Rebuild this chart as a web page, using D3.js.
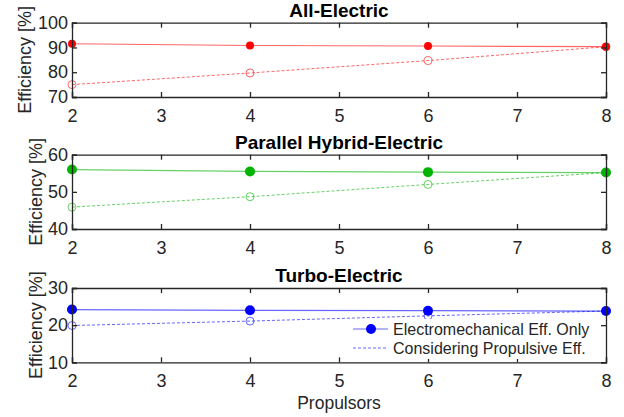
<!DOCTYPE html>
<html>
<head>
<meta charset="utf-8">
<script src="https://d3js.org/d3.v7.min.js"></script>
<style>
  body { margin: 0; background: #fff; }
  text { font-family: "Liberation Sans", Arial, sans-serif; fill: #262626; }
</style>
</head>
<body>
<script>
// data
const propulsors = [2, 4, 6, 8];
const xTicks = [2, 3, 4, 5, 6, 7, 8];

const titles = ["All-Electric", "Parallel Hybrid-Electric", "Turbo-Electric"];
const colors = ["#ff0000", "#00b400", "#0000ff"];
const yDomains = [[70, 100], [40, 60], [10, 30]];
const yTickVals = [[70, 80, 90, 100], [40, 50, 60], [10, 20, 30]];

const electroEff = [
  [91.5, 90.8, 90.6, 90.3],
  [56.0, 55.5, 55.3, 55.2],
  [24.2, 24.0, 23.9, 23.8]
];
const propulsiveEff = [
  [75.0, 79.7, 84.7, 90.3],
  [45.9, 48.7, 52.0, 55.2],
  [19.9, 21.1, 22.5, 23.8]
];

const legendLabels = ["Electromechanical Eff. Only", "Considering Propulsive Eff."];

const width = 624, height = 417;
const left = 72, right = 606;
const panelTops = [22.7, 154.7, 288];
const panelH = 74.3;
const ylabelX = [31, 42, 42];

const svg = d3.select("body").append("svg")
  .attr("width", width)
  .attr("height", height);

const x = d3.scaleLinear().domain([2, 8]).range([left, right]);

for (let p = 0; p < 3; p++) {
  const top = panelTops[p], bottom = top + panelH;
  const y = d3.scaleLinear().domain(yDomains[p]).range([bottom, top]);
  const g = svg.append("g");
  const col = colors[p];

  // lines
  const line = d3.line().x((d, i) => x(propulsors[i])).y(d => y(d));
  g.append("path").datum(electroEff[p])
    .attr("d", line).attr("fill", "none")
    .attr("stroke", col).attr("stroke-opacity", 0.6).attr("stroke-width", 1.2);
  g.append("path").datum(propulsiveEff[p])
    .attr("d", line).attr("fill", "none")
    .attr("stroke", col).attr("stroke-opacity", 0.6).attr("stroke-width", 1)
    .attr("stroke-dasharray", "3,2");

  // markers
  g.selectAll(".open").data(propulsiveEff[p]).join("circle")
    .attr("cx", (d, i) => x(propulsors[i])).attr("cy", d => y(d))
    .attr("r", 4).attr("fill", "none")
    .attr("stroke", col).attr("stroke-opacity", 0.6).attr("stroke-width", 1);
  g.selectAll(".filled").data(electroEff[p]).join("circle")
    .attr("cx", (d, i) => x(propulsors[i])).attr("cy", d => y(d))
    .attr("r", p == 0 ? 4 : 5).attr("fill", col);

  // axes box with inward ticks
  const bottomAx = d3.axisBottom(x).tickValues(xTicks).tickSize(-5).tickPadding(12).tickFormat(d3.format("d"));
  const topAx = d3.axisTop(x).tickValues(xTicks).tickSize(-5).tickFormat("");
  const leftAx = d3.axisLeft(y).tickValues(yTickVals[p]).tickSize(-5).tickPadding(4).tickFormat(d3.format("d"));
  const rightAx = d3.axisRight(y).tickValues(yTickVals[p]).tickSize(-5).tickFormat("");

  [[bottomAx, `translate(0,${bottom})`], [topAx, `translate(0,${top})`],
   [leftAx, `translate(${left},0)`], [rightAx, `translate(${right},0)`]].forEach(([ax, tr]) => {
    const a = g.append("g").attr("transform", tr).call(ax);
    a.select(".domain").attr("stroke", "#262626").attr("stroke-width", 1.3);
    a.selectAll(".tick line").attr("stroke", "#262626").attr("stroke-width", 1.3);
    a.selectAll(".tick text").style("font-size", "18px").attr("fill", "#262626")
      .style("font-family", "'Liberation Sans', Arial, sans-serif");
  });

  // title
  g.append("text")
    .attr("x", (left + right) / 2).attr("y", top - 6)
    .attr("text-anchor", "middle")
    .style("font-size", "19px").style("font-weight", "bold")
    .style("fill", "#000")
    .text(titles[p]);

  // y label
  g.append("text")
    .attr("transform", `translate(${ylabelX[p]},${(top + bottom) / 2}) rotate(-90)`)
    .attr("text-anchor", "middle")
    .style("font-size", "18px")
    .text("Efficiency [%]");
}

// x label
svg.append("text")
  .attr("x", (left + right) / 2).attr("y", 409)
  .attr("text-anchor", "middle")
  .style("font-size", "17.5px")
  .text("Propulsors");

// legend in bottom panel
const lg = svg.append("g").attr("transform", "translate(351,319)");
lg.append("rect").attr("x", 0).attr("y", 0).attr("width", 250).attr("height", 40).attr("fill", "#fff");
const lgRows = [10, 29];
lgRows.forEach((yy, i) => {
  lg.append("line").attr("x1", 2).attr("x2", 37).attr("y1", yy).attr("y2", yy)
    .attr("stroke", colors[2]).attr("stroke-opacity", 0.6)
    .attr("stroke-width", i == 0 ? 1.2 : 1)
    .attr("stroke-dasharray", i == 0 ? null : "3,2");
  if (i == 0) lg.append("circle").attr("cx", 20).attr("cy", yy).attr("r", 5).attr("fill", colors[2]);
  lg.append("text").attr("x", 42).attr("y", yy + 6)
    .style("font-size", "16px")
    .text(legendLabels[i]);
});
</script>
</body>
</html>
